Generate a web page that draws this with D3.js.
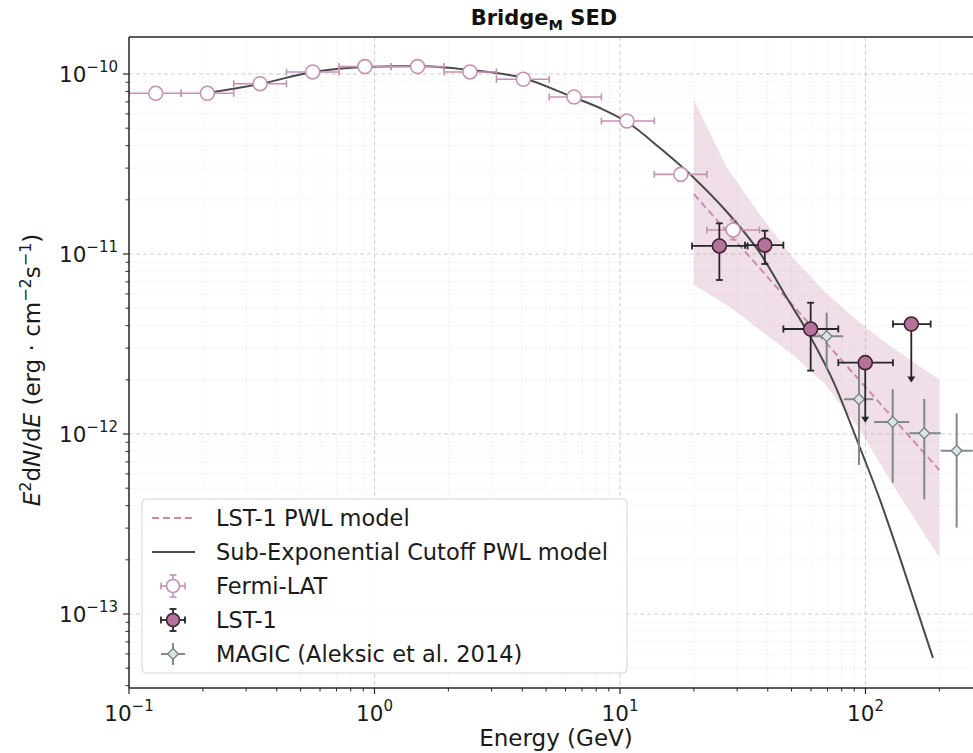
<!DOCTYPE html>
<html>
<head>
<meta charset="utf-8">
<script src="https://cdnjs.cloudflare.com/ajax/libs/d3/7.8.5/d3.min.js"></script>
<style>
  body { margin: 0; background: #fff; }
  svg { display: block; font-family: "DejaVu Sans", sans-serif; }
</style>
</head>
<body>
<svg id="chart" width="973" height="753"></svg>
<script>
// ---- data ----
const fermiE   = [0.1285, 0.2086, 0.342, 0.560, 0.914, 1.498, 2.45, 4.04, 6.50, 10.68, 17.7, 28.9];
const fermiElo = [0.100, 0.163, 0.267, 0.438, 0.717, 1.17, 1.92, 3.14, 5.15, 8.40, 13.8, 22.6];
const fermiEhi = [0.163, 0.267, 0.438, 0.717, 1.17, 1.92, 3.14, 5.15, 8.40, 13.8, 22.6, 37.0];
const fermiF   = [7.81e-11, 7.81e-11, 8.83e-11, 1.026e-10, 1.099e-10, 1.099e-10, 1.026e-10, 9.34e-11, 7.45e-11, 5.48e-11, 2.77e-11, 1.36e-11];
const fermiFlo = [7.6e-11, 7.6e-11, 8.6e-11, 1.0e-10, 1.07e-10, 1.07e-10, 0.99e-10, 8.9e-11, 7.0e-11, 5.1e-11, 2.55e-11, 1.20e-11];
const fermiFhi = [8.0e-11, 8.0e-11, 9.0e-11, 1.05e-10, 1.12e-10, 1.12e-10, 1.06e-10, 9.7e-11, 7.9e-11, 5.85e-11, 3.0e-11, 1.545e-11];

const lstE   = [25.4, 38.9, 59.8, 99.8, 153.7];
const lstElo = [19.65, 32.3, 46.3, 77.5, 129.4];
const lstEhi = [33.1, 46.3, 77.5, 129.4, 184.3];
const lstF   = [1.108e-11, 1.12e-11, 3.83e-12, 2.49e-12, 4.08e-12];
const lstFlo = [7.17e-12, 8.8e-12, 2.25e-12, 1.17e-12, 1.955e-12];
const lstFhi = [1.48e-11, 1.347e-11, 5.36e-12, 2.49e-12, 4.08e-12];
const lstUL  = [false, false, false, true, true];

const magicE   = [69.5, 94.1, 129.1, 173.6, 235.2];
const magicElo = [60.4, 81.7, 108.3, 150.8, 202.5];
const magicEhi = [81.2, 107.6, 150.8, 202.5, 273.3];
const magicF   = [3.49e-12, 1.56e-12, 1.166e-12, 1.01e-12, 8.07e-13];
const magicFlo = [2.27e-12, 6.73e-13, 5.36e-13, 4.33e-13, 3.02e-13];
const magicFhi = [4.72e-12, 2.58e-12, 1.77e-12, 1.565e-12, 1.30e-12];

// sub-exponential cutoff power law, sampled along the drawn curve
const cutoffE = [0.2078, 0.3418, 0.5615, 0.915, 1.504, 2.449, 4.026, 6.257, 8.289, 10.68, 14.55, 19.83, 27.28, 37.18, 47.89, 59.4, 75.1, 92.3, 114.6, 138.2, 188.3];
const cutoffF = [7.84e-11, 8.80e-11, 1.026e-10, 1.094e-10, 1.108e-10, 1.052e-10, 9.50e-11, 7.55e-11, 6.47e-11, 5.41e-11, 3.88e-11, 2.68e-11, 1.711e-11, 1.013e-11, 5.69e-12, 3.50e-12, 1.87e-12, 9.26e-13, 4.30e-13, 2.05e-13, 5.70e-14];

// LST-1 power law and its butterfly
const pwlE = [20, 200];
const pwlF = [2.15e-11, 6.3e-13];
const bandE  = [20, 27.3, 37.2, 50.7, 69.0, 95.0, 129.4, 200];
const bandHi = [7.17e-11, 3.00e-11, 1.647e-11, 9.50e-12, 6.07e-12, 4.14e-12, 3.00e-12, 2.00e-12];
const bandLo = [6.73e-12, 5.21e-12, 3.78e-12, 2.75e-12, 1.87e-12, 1.052e-12, 5.21e-13, 2.05e-13];

const xTicks = [0.1, 1, 10, 100];
const xTickExp = ["\u22121", "0", "1", "2"];
const yTicks = [1e-10, 1e-11, 1e-12, 1e-13];
const yTickExp = ["\u221210", "\u221211", "\u221212", "\u221213"];

// ---- layout ----
const padL = 129, padT = 37, padB = 688, padR = 982.6;
const svg = d3.select("#chart");

const x = d3.scaleLog().domain([0.1, 300]).range([padL, padR]);
const y = d3.scaleLog().domain([3.88e-14, 1.605e-10]).range([padB, padT]);

svg.append("defs").append("clipPath").attr("id", "plot")
  .append("rect").attr("x", padL).attr("y", padT).attr("width", padR - padL).attr("height", padB - padT);

const fermiCol = "#c592b3";
const lstFill = "#b5739b", lstEdge = "#3c2433", lstBar = "#262626";
const magicBar = "#7f8a8a", magicFill = "#d8e5e5", magicEdge = "#75807f";

// minor tick values
const xMinor = [];
for (let d = -1; d <= 2; d++) for (let m = 2; m <= 9; m++) {
  const v = m * Math.pow(10, d);
  if (v < 300) xMinor.push(v);
}
const yMinor = [];
for (let d = -14; d <= -10; d++) for (let m = 2; m <= 9; m++) {
  const v = m * Math.pow(10, d);
  if (v > 3.88e-14 && v < 1.605e-10) yMinor.push(v);
}

// ---- grid ----
const grid = svg.append("g").attr("clip-path", "url(#plot)");
grid.selectAll("line.xmin").data(xMinor).enter().append("line")
  .attr("x1", d => x(d)).attr("x2", d => x(d)).attr("y1", padT).attr("y2", padB)
  .attr("stroke", "#ececec").attr("stroke-width", 0.8).attr("stroke-dasharray", "2,2");
grid.selectAll("line.ymin").data(yMinor).enter().append("line")
  .attr("y1", d => y(d)).attr("y2", d => y(d)).attr("x1", padL).attr("x2", padR)
  .attr("stroke", "#ececec").attr("stroke-width", 0.8).attr("stroke-dasharray", "2,2");
grid.selectAll("line.xmaj").data(xTicks).enter().append("line")
  .attr("x1", d => x(d)).attr("x2", d => x(d)).attr("y1", padT).attr("y2", padB)
  .attr("stroke", "#cfcfcf").attr("stroke-width", 1).attr("stroke-dasharray", "4,3");
grid.selectAll("line.ymaj").data(yTicks).enter().append("line")
  .attr("y1", d => y(d)).attr("y2", d => y(d)).attr("x1", padL).attr("x2", padR)
  .attr("stroke", "#cfcfcf").attr("stroke-width", 1).attr("stroke-dasharray", "4,3");

const plot = svg.append("g").attr("clip-path", "url(#plot)");

// butterfly band
const bandData = bandE.map((e, i) => ({ e: e, lo: bandLo[i], hi: bandHi[i] }));
plot.append("path").datum(bandData)
  .attr("d", d3.area().x(d => x(d.e)).y0(d => y(d.lo)).y1(d => y(d.hi)))
  .attr("fill", "#c47fa6").attr("fill-opacity", 0.25);

// LST-1 PWL model
plot.append("path").datum(pwlE.map((e, i) => [e, pwlF[i]]))
  .attr("d", d3.line().x(d => x(d[0])).y(d => y(d[1])))
  .attr("fill", "none").attr("stroke", "#c98aae").attr("stroke-width", 2)
  .attr("stroke-dasharray", "7,4");

// sub-exponential cutoff model
plot.append("path").datum(cutoffE.map((e, i) => [e, cutoffF[i]]))
  .attr("d", d3.line().curve(d3.curveMonotoneX).x(d => x(d[0])).y(d => y(d[1])))
  .attr("fill", "none").attr("stroke", "#4a4a4a").attr("stroke-width", 2);

// generic error bar helper
function errorBars(g, pts, color, width, cap) {
  pts.forEach(p => {
    const cx = x(p.e), cy = y(p.f);
    g.append("line").attr("x1", x(p.elo)).attr("x2", x(p.ehi)).attr("y1", cy).attr("y2", cy)
      .attr("stroke", color).attr("stroke-width", width);
    if (!p.ul) {
      g.append("line").attr("x1", cx).attr("x2", cx).attr("y1", y(p.flo)).attr("y2", y(p.fhi))
        .attr("stroke", color).attr("stroke-width", width);
    }
    if (cap > 0) {
      [p.elo, p.ehi].forEach(v => g.append("line")
        .attr("x1", x(v)).attr("x2", x(v)).attr("y1", cy - cap).attr("y2", cy + cap)
        .attr("stroke", color).attr("stroke-width", width));
      if (!p.ul) {
        [p.flo, p.fhi].forEach(v => g.append("line")
          .attr("x1", cx - cap).attr("x2", cx + cap).attr("y1", y(v)).attr("y2", y(v))
          .attr("stroke", color).attr("stroke-width", width));
      }
    }
  });
}

// Fermi-LAT
const fermiPts = fermiE.map((e, i) => ({ e: e, elo: fermiElo[i], ehi: fermiEhi[i], f: fermiF[i], flo: fermiFlo[i], fhi: fermiFhi[i] }));
const gF = plot.append("g");
errorBars(gF, fermiPts, fermiCol, 1.6, 3.5);
gF.selectAll("circle").data(fermiPts).enter().append("circle")
  .attr("cx", d => x(d.e)).attr("cy", d => y(d.f)).attr("r", 7)
  .attr("fill", "#fff").attr("stroke", fermiCol).attr("stroke-width", 1.6);

// MAGIC
const magicPts = magicE.map((e, i) => ({ e: e, elo: magicElo[i], ehi: magicEhi[i], f: magicF[i], flo: magicFlo[i], fhi: magicFhi[i] }));
const gM = plot.append("g");
errorBars(gM, magicPts, magicBar, 2, 0);
const diamond = d3.symbol().type(d3.symbolDiamond2).size(75);
gM.selectAll("path.dm").data(magicPts).enter().append("path")
  .attr("transform", d => `translate(${x(d.e)},${y(d.f)})`)
  .attr("d", diamond).attr("fill", magicFill).attr("stroke", magicEdge).attr("stroke-width", 1.3);

// LST-1
const lstPts = lstE.map((e, i) => ({ e: e, elo: lstElo[i], ehi: lstEhi[i], f: lstF[i], flo: lstFlo[i], fhi: lstFhi[i], ul: lstUL[i] }));
const gL = plot.append("g");
errorBars(gL, lstPts, lstBar, 1.8, 3.5);
lstPts.filter(d => d.ul).forEach(d => {
  const cx = x(d.e), y0 = y(d.f), y1 = y(d.flo);
  gL.append("line").attr("x1", cx).attr("x2", cx).attr("y1", y0).attr("y2", y1 - 4)
    .attr("stroke", lstBar).attr("stroke-width", 1.8);
  gL.append("path").attr("d", `M${cx - 4},${y1 - 5}L${cx + 4},${y1 - 5}L${cx},${y1 + 1}Z`).attr("fill", lstBar);
});
gL.selectAll("circle").data(lstPts).enter().append("circle")
  .attr("cx", d => x(d.e)).attr("cy", d => y(d.f)).attr("r", 7)
  .attr("fill", lstFill).attr("stroke", lstEdge).attr("stroke-width", 1.6);

// ---- axes ----
const axisCol = "#262626";
svg.append("line").attr("x1", padL).attr("x2", 973).attr("y1", padT).attr("y2", padT).attr("stroke", axisCol).attr("stroke-width", 1.5);
svg.append("line").attr("x1", padL).attr("x2", 973).attr("y1", padB).attr("y2", padB).attr("stroke", axisCol).attr("stroke-width", 1.5);
svg.append("line").attr("x1", padL).attr("x2", padL).attr("y1", padT).attr("y2", padB).attr("stroke", axisCol).attr("stroke-width", 1.5);

svg.selectAll("line.xtk").data(xTicks).enter().append("line")
  .attr("x1", d => x(d)).attr("x2", d => x(d)).attr("y1", padB).attr("y2", padB + 6)
  .attr("stroke", axisCol).attr("stroke-width", 1.2);
svg.selectAll("line.xmt").data(xMinor.filter(v => x(v) < 973)).enter().append("line")
  .attr("x1", d => x(d)).attr("x2", d => x(d)).attr("y1", padB).attr("y2", padB + 3.5)
  .attr("stroke", axisCol).attr("stroke-width", 1);
svg.selectAll("line.ytk").data(yTicks).enter().append("line")
  .attr("y1", d => y(d)).attr("y2", d => y(d)).attr("x1", padL).attr("x2", padL - 6)
  .attr("stroke", axisCol).attr("stroke-width", 1.2);
svg.selectAll("line.ymt").data(yMinor).enter().append("line")
  .attr("y1", d => y(d)).attr("y2", d => y(d)).attr("x1", padL).attr("x2", padL - 3.5)
  .attr("stroke", axisCol).attr("stroke-width", 1);

// tick labels
xTicks.forEach((v, i) => {
  const t = svg.append("text").attr("x", x(v)).attr("y", 721).attr("text-anchor", "middle")
    .attr("font-size", 21.5).attr("fill", "#1a1a1a");
  t.append("tspan").text("10");
  t.append("tspan").attr("dy", -10).attr("font-size", 15).text(xTickExp[i]);
});
yTicks.forEach((v, i) => {
  const t = svg.append("text").attr("x", 118).attr("y", y(v) + 8).attr("text-anchor", "end")
    .attr("font-size", 21.5).attr("fill", "#1a1a1a");
  t.append("tspan").text("10");
  t.append("tspan").attr("dy", -10).attr("font-size", 15).text(yTickExp[i]);
});

// axis labels
svg.append("text").attr("x", 556).attr("y", 746).attr("text-anchor", "middle")
  .attr("font-size", 23).attr("fill", "#1a1a1a").text("Energy (GeV)");

const yl = svg.append("text").attr("transform", "translate(40,370) rotate(-90)")
  .attr("text-anchor", "middle").attr("font-size", 23).attr("fill", "#1a1a1a");
yl.append("tspan").attr("font-style", "italic").text("E");
yl.append("tspan").attr("dy", -9).attr("font-size", 16).text("2");
yl.append("tspan").attr("dy", 9).text("d");
yl.append("tspan").attr("font-style", "italic").text("N");
yl.append("tspan").text("/d");
yl.append("tspan").attr("font-style", "italic").text("E");
yl.append("tspan").text(" (erg \u00b7 cm");
yl.append("tspan").attr("dy", -9).attr("font-size", 16).text("\u22122");
yl.append("tspan").attr("dy", 9).text("s");
yl.append("tspan").attr("dy", -9).attr("font-size", 16).text("\u22121");
yl.append("tspan").attr("dy", 9).text(")");

// title
const ti = svg.append("text").attr("x", 544).attr("y", 25).attr("text-anchor", "middle")
  .attr("font-size", 21).attr("font-weight", "bold").attr("fill", "#111");
ti.append("tspan").text("Bridge");
ti.append("tspan").attr("dy", 5).attr("font-size", 14.5).text("M");
ti.append("tspan").attr("dy", -5).text(" SED");

// ---- legend ----
const lg = svg.append("g");
lg.append("rect").attr("x", 142).attr("y", 499).attr("width", 485).attr("height", 174).attr("rx", 4)
  .attr("fill", "#fff").attr("fill-opacity", 0.85).attr("stroke", "#d4d4d4").attr("stroke-width", 1);
const legendItems = ["LST-1 PWL model", "Sub-Exponential Cutoff PWL model", "Fermi-LAT", "LST-1", "MAGIC (Aleksic et al. 2014)"];
const rowY = [518, 552, 586, 620, 654];
const hx = 173;
legendItems.forEach((s, i) => {
  lg.append("text").attr("x", 216).attr("y", rowY[i] + 8).attr("font-size", 22.5).attr("fill", "#1a1a1a").text(s);
});
lg.append("line").attr("x1", 152).attr("x2", 195).attr("y1", rowY[0]).attr("y2", rowY[0])
  .attr("stroke", "#c98aae").attr("stroke-width", 2).attr("stroke-dasharray", "7,4");
lg.append("line").attr("x1", 152).attr("x2", 195).attr("y1", rowY[1]).attr("y2", rowY[1])
  .attr("stroke", "#4a4a4a").attr("stroke-width", 2);
function legendErr(cy, color, w, cap) {
  lg.append("line").attr("x1", hx - 12).attr("x2", hx + 12).attr("y1", cy).attr("y2", cy).attr("stroke", color).attr("stroke-width", w);
  lg.append("line").attr("x1", hx).attr("x2", hx).attr("y1", cy - 11).attr("y2", cy + 11).attr("stroke", color).attr("stroke-width", w);
  if (cap) {
    [-12, 12].forEach(o => lg.append("line").attr("x1", hx + o).attr("x2", hx + o).attr("y1", cy - cap).attr("y2", cy + cap).attr("stroke", color).attr("stroke-width", w));
    [-11, 11].forEach(o => lg.append("line").attr("x1", hx - cap).attr("x2", hx + cap).attr("y1", cy + o).attr("y2", cy + o).attr("stroke", color).attr("stroke-width", w));
  }
}
legendErr(rowY[2], fermiCol, 1.6, 3.5);
lg.append("circle").attr("cx", hx).attr("cy", rowY[2]).attr("r", 6.5).attr("fill", "#fff").attr("stroke", fermiCol).attr("stroke-width", 1.6);
legendErr(rowY[3], lstBar, 1.8, 3.5);
lg.append("circle").attr("cx", hx).attr("cy", rowY[3]).attr("r", 6.5).attr("fill", lstFill).attr("stroke", lstEdge).attr("stroke-width", 1.6);
legendErr(rowY[4], magicBar, 2, 0);
lg.append("path").attr("transform", `translate(${hx},${rowY[4]})`).attr("d", diamond)
  .attr("fill", magicFill).attr("stroke", magicEdge).attr("stroke-width", 1.3);
</script>
</body>
</html>
